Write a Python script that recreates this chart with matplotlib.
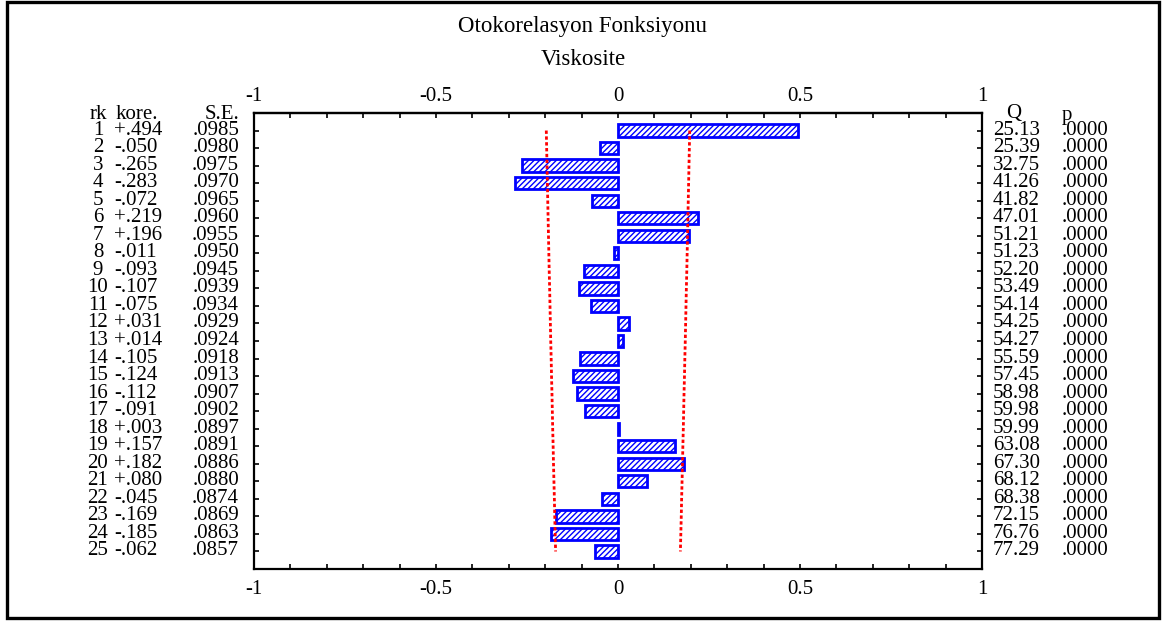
import matplotlib
matplotlib.use("Agg")
import matplotlib.pyplot as plt
from matplotlib.patches import Rectangle
from matplotlib.transforms import blended_transform_factory

# data
lags = list(range(1, 26))
kore = [0.494, -0.050, -0.265, -0.283, -0.072, 0.219, 0.196, -0.011, -0.093, -0.107,
        -0.075, 0.031, 0.014, -0.105, -0.124, -0.112, -0.091, 0.003, 0.157, 0.182,
        0.080, -0.045, -0.169, -0.185, -0.062]
se = [0.0985, 0.0980, 0.0975, 0.0970, 0.0965, 0.0960, 0.0955, 0.0950, 0.0945, 0.0939,
      0.0934, 0.0929, 0.0924, 0.0918, 0.0913, 0.0907, 0.0902, 0.0897, 0.0891, 0.0886,
      0.0880, 0.0874, 0.0869, 0.0863, 0.0857]
q_vals = [25.13, 25.39, 32.75, 41.26, 41.82, 47.01, 51.21, 51.23, 52.20, 53.49,
          54.14, 54.25, 54.27, 55.59, 57.45, 58.98, 59.98, 59.99, 63.08, 67.30,
          68.12, 68.38, 72.15, 76.76, 77.29]
p_vals = [0.0] * 25
x_ticks = [-1, -0.5, 0, 0.5, 1]
x_labels = ["-1", "-0.5", "0", "0.5", "1"]

plt.rcParams['font.family'] = ['Liberation Serif', 'DejaVu Serif']
plt.rcParams['hatch.color'] = 'blue'
plt.rcParams['hatch.linewidth'] = 1.0
fs = 15

W, H = 1166, 626
fig = plt.figure(figsize=(W / 100, H / 100), dpi=100)
ax = fig.add_axes([254 / W, 1 - 569 / H, (982 - 254) / W, (569 - 113) / H])

ax.barh(lags, kore, height=0.7, color='white', edgecolor='blue',
        hatch='//////', linewidth=2.0)
lim = [2 * s for s in se]
ax.plot(lim, lags, color='red', linestyle=(0, (1.2, 0.9)), linewidth=2.0)
ax.plot([-v for v in lim], lags, color='red', linestyle=(0, (1.2, 0.9)), linewidth=2.0)

ax.set_xlim(-1, 1)
ax.set_ylim(26, 0)
ax.set_xticks(x_ticks)
ax.set_xticklabels(x_labels, fontsize=fs)
ax.set_xticks([i / 10 for i in range(-10, 11)], minor=True)
ax.set_yticks(lags)
ax.set_yticklabels([])
ax.tick_params(axis='both', which='both', direction='in', length=3.5, width=1.2,
               right=True, top=False)
ax.tick_params(axis='x', pad=8)
for s in ax.spines.values():
    s.set_linewidth(1.6)

top = ax.secondary_xaxis('top')
top.set_xticks(x_ticks)
top.set_xticklabels(x_labels, fontsize=fs)
top.set_xticks([i / 10 for i in range(-10, 11)], minor=True)
top.tick_params(axis='x', which='both', direction='in', length=3.5, width=1.2, pad=5)
top.spines['top'].set_linewidth(1.6)

# table columns beside the plot
tr = blended_transform_factory(fig.transFigure, ax.transData)
hy = 0.36
fig.text(98 / W, hy, "rk", transform=tr, ha='center', va='baseline', fontsize=fs)
fig.text(116 / W, hy, "kore.", transform=tr, ha='left', va='baseline', fontsize=fs)
fig.text(239 / W, hy, "S.E.", transform=tr, ha='right', va='baseline', fontsize=fs)
fig.text(1014 / W, 0.28, "Q", transform=tr, ha='center', va='baseline', fontsize=fs)
fig.text(1062 / W, 0.42, "p", transform=tr, ha='left', va='baseline', fontsize=fs)

for k, r, s, q, p in zip(lags, kore, se, q_vals, p_vals):
    y = k + 0.23
    fig.text(98 / W, y, str(k), transform=tr, ha='center', va='baseline', fontsize=fs)
    fig.text(114 / W, y, f"{r:+.3f}".replace("0.", ".", 1), transform=tr,
             ha='left', va='baseline', fontsize=fs)
    fig.text(239 / W, y, f"{s:.4f}"[1:], transform=tr, ha='right', va='baseline', fontsize=fs)
    fig.text(993 / W, y, f"{q:.2f}", transform=tr, ha='left', va='baseline', fontsize=fs)
    fig.text(1062 / W, y, f"{p:.4f}"[1:], transform=tr, ha='left', va='baseline', fontsize=fs)

fig.text(583 / W, 1 - 32 / H, "Otokorelasyon Fonksiyonu", ha='center', va='baseline', fontsize=16.5)
fig.text(583 / W, 1 - 65 / H, "Viskosite", ha='center', va='baseline', fontsize=16.5)

# outer frame
fig.patches.append(Rectangle((6.5 / W, 1 - 618 / H), (1158.5 - 6.5) / W, (618 - 1.5) / H,
                             transform=fig.transFigure, fill=False,
                             edgecolor='black', linewidth=2.4))

fig.savefig("out.png", dpi=100)
